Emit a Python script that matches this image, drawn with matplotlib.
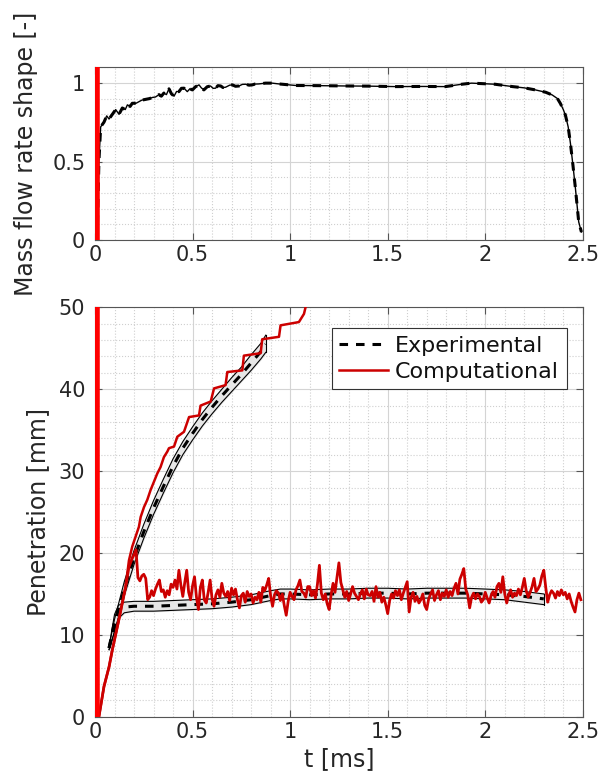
import numpy as np
import matplotlib
matplotlib.use('Agg')
import matplotlib.pyplot as plt
from matplotlib.ticker import MultipleLocator

# ---- mass flow rate shape (top panel) ----
mfr_t = [0.0, 0.012, 0.02, 0.029, 0.046, 0.06, 0.072, 0.089, 0.106, 0.123, 0.14, 0.155, 0.166,
         0.18, 0.191, 0.21, 0.225, 0.24, 0.26, 0.28, 0.294, 0.31, 0.328, 0.34, 0.353, 0.366,
         0.379, 0.392, 0.405, 0.418, 0.43, 0.443, 0.456, 0.473, 0.486, 0.499, 0.515, 0.533,
         0.545, 0.558, 0.575, 0.592, 0.605, 0.618, 0.63, 0.644, 0.656, 0.669, 0.69, 0.704,
         0.72, 0.738, 0.755, 0.772, 0.79, 0.806, 0.82, 0.84, 0.874, 0.908, 0.942, 1.03, 1.15,
         1.284, 1.4, 1.54, 1.68, 1.796, 1.88, 1.93, 2.05, 2.14, 2.2, 2.257, 2.31, 2.343,
         2.37, 2.385, 2.4, 2.411, 2.425, 2.437, 2.45, 2.462, 2.479, 2.493]
mfr_v = [0.0, 0.07, 0.50, 0.72, 0.75, 0.79, 0.77, 0.80, 0.83, 0.80, 0.84, 0.83, 0.86,
         0.85, 0.87, 0.87, 0.88, 0.89, 0.895, 0.90, 0.907, 0.91, 0.925, 0.915, 0.935, 0.925,
         0.962, 0.93, 0.915, 0.945, 0.944, 0.965, 0.966, 0.944, 0.962, 0.955, 0.975, 0.987,
         0.968, 0.955, 0.975, 0.98, 0.965, 0.966, 0.982, 0.98, 0.97, 0.972, 0.985, 0.987,
         0.978, 0.98, 0.99, 0.991, 0.985, 0.987, 0.992, 0.993, 0.998, 0.998, 0.993, 0.983,
         0.982, 0.98, 0.979, 0.976, 0.977, 0.976, 0.991, 0.998, 0.991, 0.976, 0.968, 0.955,
         0.94, 0.923, 0.90, 0.869, 0.83, 0.794, 0.72, 0.611, 0.47, 0.331, 0.116, 0.052]

# ---- experimental vapour penetration ----
exp_vap_t = [0.072, 0.1, 0.15, 0.2, 0.25, 0.3, 0.35, 0.4, 0.45, 0.5, 0.55, 0.6, 0.65, 0.7,
             0.75, 0.8, 0.85, 0.875]
exp_vap_p = [8.4, 11.2, 15.6, 19.4, 22.6, 25.5, 28.1, 30.6, 32.8, 34.6, 36.3, 37.8, 39.2,
             40.5, 41.8, 43.2, 44.6, 45.5]
exp_vap_hi = [8.6, 11.9, 16.5, 20.3, 23.5, 26.4, 29.0, 31.5, 33.6, 35.4, 37.1, 38.6, 40.0,
              41.4, 42.7, 44.2, 45.6, 46.6]
exp_vap_lo = [8.2, 10.4, 14.8, 18.6, 21.8, 24.7, 27.3, 29.8, 32.0, 33.8, 35.5, 37.0, 38.4,
              39.7, 41.0, 42.3, 43.7, 44.5]

# ---- experimental liquid length ----
exp_liq_t = [0.072, 0.1, 0.12, 0.15, 0.2, 0.3, 0.4, 0.5, 0.6, 0.7, 0.8, 0.9, 0.95, 1.0, 1.1,
             1.2, 1.3, 1.4, 1.5, 1.6, 1.7, 1.8, 1.9, 2.0, 2.1, 2.2, 2.3]
exp_liq_p = [8.4, 11.6, 12.9, 13.4, 13.5, 13.5, 13.6, 13.7, 13.8, 14.0, 14.3, 14.8, 15.0,
             15.0, 14.9, 15.0, 15.0, 15.1, 15.1, 15.0, 15.1, 15.1, 15.1, 15.0, 14.9, 14.7, 14.4]
exp_liq_hi = [8.6, 12.5, 13.6, 14.0, 14.1, 14.1, 14.2, 14.3, 14.4, 14.6, 14.9, 15.4, 15.6,
              15.6, 15.5, 15.6, 15.6, 15.7, 15.7, 15.6, 15.7, 15.7, 15.7, 15.6, 15.5, 15.3, 15.0]
exp_liq_lo = [8.2, 10.4, 12.0, 12.7, 12.9, 12.9, 13.0, 13.1, 13.2, 13.4, 13.7, 14.2, 14.4,
              14.4, 14.3, 14.4, 14.4, 14.5, 14.5, 14.4, 14.5, 14.5, 14.5, 14.4, 14.3, 14.0, 13.7]

# ---- computational vapour penetration (stair-like) ----
comp_vap_t = [0.0, 0.02, 0.046, 0.072, 0.089, 0.12, 0.157, 0.174, 0.191, 0.225, 0.234, 0.251,
              0.268, 0.285, 0.302, 0.319, 0.336, 0.353, 0.371, 0.379, 0.405, 0.422, 0.456,
              0.482, 0.533, 0.541, 0.593, 0.610, 0.669, 0.678, 0.755, 0.763, 0.849, 0.857,
              0.943, 0.951, 1.045, 1.071, 1.079, 1.10]
comp_vap_p = [0.0, 0.0, 3.7, 6.1, 8.2, 11.6, 15.9, 19.1, 20.8, 23.2, 24.4, 25.6, 26.5, 27.7,
              28.7, 29.7, 30.5, 31.7, 32.4, 32.8, 33.0, 34.2, 34.8, 36.6, 36.8, 38.0, 38.5,
              40.1, 40.5, 42.1, 42.3, 44.1, 44.4, 46.1, 46.4, 47.8, 48.2, 49.2, 50.0, 51.0]

# ---- computational liquid length ----
liq_rise_t = [0.0, 0.02, 0.046, 0.072, 0.089, 0.12, 0.157, 0.174, 0.19]
liq_rise_p = [0.0, 0.0, 3.7, 6.1, 8.2, 11.6, 15.9, 18.3, 19.3]
comp_liq_p = [
    19.8, 20.4, 17.0, 16.6, 17.2, 17.4, 16.9, 14.3, 14.6, 15.4, 14.8,
    15.6, 16.2, 16.7, 15.3, 15.5, 14.6, 15.4, 14.9, 16.2, 15.8,
    16.7, 15.6, 17.9, 16.1, 14.7, 16.4, 17.9, 15.2, 14.3, 16.0,
    17.1, 14.6, 13.1, 15.8, 16.7, 14.3, 13.9, 15.2, 16.7, 14.4,
    13.5, 14.9, 15.5, 14.6, 16.3, 15.1, 14.7, 15.3, 14.2, 15.7,
    14.9, 15.6, 14.3, 13.3, 14.8, 15.1, 14.0, 15.3, 14.7, 15.0,
    13.9, 14.6, 14.3, 15.2, 14.0, 15.8, 15.4, 16.1, 16.9, 14.8,
    13.5, 14.9, 15.4, 15.1, 14.2, 15.0, 13.6, 12.4, 14.1, 15.2,
    14.7, 14.3, 15.5, 16.0, 16.7, 15.3, 15.1, 14.6, 15.9, 15.9,
    14.8, 15.4, 14.5, 16.2, 18.5, 15.1, 14.3, 15.0, 13.8, 13.1,
    14.9, 16.3, 15.2, 17.0, 18.8, 16.4, 15.5, 14.6, 15.3, 14.2,
    15.0, 15.9, 15.1, 14.7, 14.3, 15.0, 15.5, 14.4, 15.6, 14.9,
    14.8, 15.3, 14.1, 15.9, 14.6, 15.2, 14.0, 14.6, 13.7, 12.6,
    14.2, 15.0, 14.5, 15.4, 14.8, 15.5, 14.3, 15.1, 15.8, 16.5,
    12.8, 14.6, 15.2, 14.1, 14.7, 13.9, 14.3, 15.0, 13.6, 13.1,
    14.4, 15.0, 15.5, 14.2, 14.9, 15.4, 14.3, 15.1, 14.7, 15.5,
    14.6, 15.3, 14.8, 15.7, 16.3, 15.0, 16.8, 17.4, 18.1, 15.6,
    14.9, 13.3, 14.6, 15.1, 14.4, 15.0, 14.7, 14.0, 14.3, 15.2,
    14.5, 13.9, 14.8, 15.3, 14.6, 15.9, 16.3, 15.2, 17.1, 15.0,
    13.9, 14.9, 15.5, 14.6, 15.1, 14.8, 15.6, 14.9, 15.8, 16.9,
    15.4, 14.6, 15.2, 15.9, 16.9, 15.3, 15.6, 16.1, 17.2, 17.9,
    15.8, 14.0, 14.9, 15.4, 15.1, 14.5, 15.3, 14.8, 15.5, 14.9,
    15.2, 14.4, 15.0, 14.1, 13.4, 12.8, 14.3, 15.1, 14.3]
comp_liq_t = np.round(np.arange(0.20, 2.505, 0.01), 2)[:len(comp_liq_p)]

xticks = [0, 0.5, 1, 1.5, 2, 2.5]
xticklabels = ['0', '0.5', '1', '1.5', '2', '2.5']

plt.rcParams['font.family'] = 'DejaVu Sans'
plt.rcParams['font.size'] = 15
txt = '#262626'
edge = '#555555'
dash = (0, (2.8, 2.6))

fig = plt.figure(figsize=(6.09, 7.8), dpi=100)
ax1 = fig.add_axes([0.156, 0.692, 0.801, 0.222])
ax2 = fig.add_axes([0.156, 0.081, 0.801, 0.525])


def style(ax):
    ax.set_xlim(0, 2.5)
    ax.set_xticks(xticks)
    ax.set_xticklabels(xticklabels)
    ax.xaxis.set_minor_locator(MultipleLocator(0.1))
    ax.grid(True, which='major', color='#d4d4d4', lw=0.8, ls='-')
    ax.grid(True, which='minor', color='#cfcfcf', lw=0.8, ls=':')
    ax.set_axisbelow(True)
    ax.tick_params(which='both', direction='in', top=True, right=True, colors=edge,
                   labelcolor=txt, labelsize=15)
    ax.tick_params(which='major', length=5)
    ax.tick_params(which='minor', length=0)
    ax.tick_params(axis='y', pad=7)
    for s in ax.spines.values():
        s.set_color(edge)
        s.set_linewidth(0.8)


# top panel
style(ax1)
ax1.set_ylim(0, 1.1)
ax1.set_yticks([0, 0.5, 1])
ax1.set_yticklabels(['0', '0.5', '1'])
ax1.yaxis.set_minor_locator(MultipleLocator(0.1))
ax1.plot(mfr_t, mfr_v, color='k', lw=1.0)
ax1.plot(mfr_t, mfr_v, color='k', lw=2.2, ls=dash)
ax1.axvline(0.008, color='#ff0000', lw=4, zorder=5)
ax1.set_ylabel('Mass flow rate shape [-]', color=txt, fontsize=17, labelpad=10)

# bottom panel
style(ax2)
ax2.set_ylim(0, 50)
ax2.set_yticks([0, 10, 20, 30, 40, 50])
ax2.yaxis.set_minor_locator(MultipleLocator(2))

for bt, lo, hi in [(exp_vap_t, exp_vap_lo, exp_vap_hi), (exp_liq_t, exp_liq_lo, exp_liq_hi)]:
    ax2.fill_between(bt, lo, hi, color='#e6e6e6', zorder=2)
    ax2.plot(bt, lo, color='k', lw=0.8, zorder=3)
    ax2.plot(bt, hi, color='k', lw=0.8, zorder=3)
    ax2.plot([bt[-1], bt[-1]], [lo[-1], hi[-1]], color='k', lw=0.8, zorder=3)

ax2.plot(exp_vap_t, exp_vap_p, color='k', lw=2.2, ls=dash, zorder=4, label='Experimental')
ax2.plot(exp_liq_t, exp_liq_p, color='k', lw=2.2, ls=dash, zorder=4)

ax2.plot(comp_vap_t, comp_vap_p, color='#cc0000', lw=1.8, zorder=5, label='Computational')
ax2.plot(list(liq_rise_t) + list(comp_liq_t), list(liq_rise_p) + list(comp_liq_p),
         color='#cc0000', lw=2.0, zorder=5)
ax2.axvline(0.008, color='#ff0000', lw=4, zorder=6)

ax2.set_ylabel('Penetration [mm]', color=txt, fontsize=17, labelpad=6)
ax2.set_xlabel('t [ms]', color=txt, fontsize=17, labelpad=4)

leg = ax2.legend(loc='upper right', bbox_to_anchor=(0.967, 0.949), fontsize=16,
                 fancybox=False, framealpha=1, edgecolor='#333333', handlelength=2.2,
                 handletextpad=0.3, borderpad=0.35, labelspacing=0.25, borderaxespad=0)
leg.get_frame().set_linewidth(0.8)
for t in leg.get_texts():
    t.set_color('#111111')

fig.savefig('out.png', dpi=100)
